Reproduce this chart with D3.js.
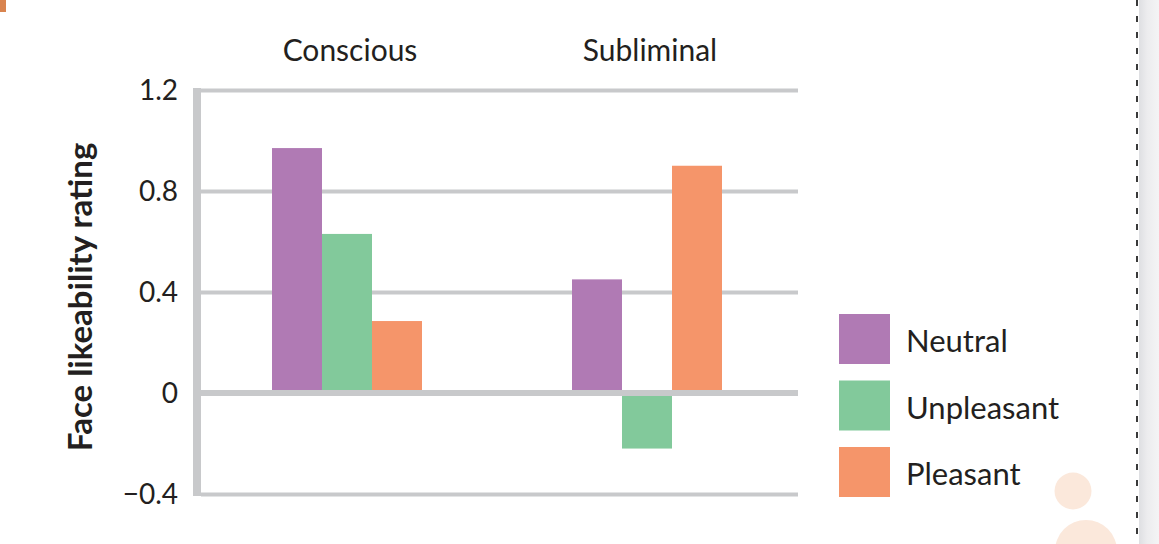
<!DOCTYPE html>
<html>
<head>
<meta charset="utf-8">
<script src="https://cdn.jsdelivr.net/npm/d3@7"></script>
<style>
  html, body { margin: 0; padding: 0; background: #fff; }
  svg { display: block; }
  text { font-family: Lato, "Open Sans", sans-serif; fill: #231f20; }
</style>
</head>
<body>
<svg id="chart" width="1159" height="544"></svg>
<script>
const categories = ["Conscious", "Subliminal"];
const seriesNames = ["Neutral", "Unpleasant", "Pleasant"];
const neutralValues = [0.97, 0.45];
const unpleasantValues = [0.63, -0.22];
const pleasantValues = [0.285, 0.90];
const tickValues = [-0.4, 0, 0.4, 0.8, 1.2];
const tickLabels = ["\u22120.4", "0", "0.4", "0.8", "1.2"];
const seriesColors = ["#b07ab4", "#82c99b", "#f5956a"];
const yTitle = "Face likeability rating";

const seriesValues = [neutralValues, unpleasantValues, pleasantValues];

const svg = d3.select("#chart");

// decorations
const defs = svg.append("defs");
const grad = defs.append("linearGradient").attr("id", "sideGrad").attr("x1", "0").attr("x2", "1");
grad.append("stop").attr("offset", "0").attr("stop-color", "#dedfe2");
grad.append("stop").attr("offset", "0.4").attr("stop-color", "#ececee");
grad.append("stop").attr("offset", "1").attr("stop-color", "#f4f4f5");
svg.append("rect").attr("x", 1139).attr("y", 0).attr("width", 20).attr("height", 544).attr("fill", "url(#sideGrad)");
svg.append("line").attr("x1", 1137).attr("x2", 1137).attr("y1", 0).attr("y2", 544)
  .attr("stroke", "#3a3a3a").attr("stroke-width", 2).attr("stroke-dasharray", "6,10");
svg.append("rect").attr("x", 0).attr("y", 0).attr("width", 6).attr("height", 12).attr("fill", "#d9844f");
svg.append("circle").attr("cx", 1073).attr("cy", 491).attr("r", 18.5).attr("fill", "#fbe8db");
svg.append("circle").attr("cx", 1086).attr("cy", 551).attr("r", 31).attr("fill", "#fbe8db");

// scales
const y = d3.scaleLinear().domain([-0.4, 1.2]).range([494, 90]);
const x0 = d3.scaleBand().domain(categories).range([197, 797]).padding(0);
const x1 = d3.scaleBand().domain(seriesNames).range([75, 225]).padding(0);
const color = d3.scaleOrdinal().domain(seriesNames).range(seriesColors);

const gridColor = "#c8c9cb";

// gridlines via axis
const gridAxis = d3.axisRight(y).tickValues(tickValues.filter(v => v !== 0)).tickSize(597).tickFormat("");
const gGrid = svg.append("g").attr("transform", "translate(201,0)").call(gridAxis);
gGrid.select(".domain").remove();
gGrid.selectAll(".tick line").attr("stroke", gridColor).attr("stroke-width", 4);

// bars
const rows = categories.map((c, i) => ({ cat: c, vals: seriesNames.map((s, j) => ({ s, v: seriesValues[j][i] })) }));
const groups = svg.append("g").selectAll("g").data(rows).join("g")
  .attr("transform", d => `translate(${x0(d.cat)},0)`);
groups.selectAll("rect").data(d => d.vals).join("rect")
  .attr("x", d => x1(d.s))
  .attr("width", x1.bandwidth())
  .attr("y", d => y(Math.max(0, d.v)))
  .attr("height", d => Math.abs(y(d.v) - y(0)))
  .attr("fill", d => color(d.s));

// zero line
svg.append("line").attr("x1", 197).attr("x2", 798).attr("y1", y(0)).attr("y2", y(0))
  .attr("stroke", gridColor).attr("stroke-width", 6);

// vertical axis bar
svg.append("line").attr("x1", 197).attr("x2", 197).attr("y1", y(1.2) - 2).attr("y2", y(-0.4) + 2)
  .attr("stroke", gridColor).attr("stroke-width", 8);

// y tick labels via axis
const yAxis = d3.axisLeft(y).tickValues(tickValues).tickSize(0).tickPadding(0)
  .tickFormat((d, i) => tickLabels[i]);
const gY = svg.append("g").attr("transform", "translate(178,0)").call(yAxis);
gY.select(".domain").remove();
gY.selectAll("text").style("font-size", "28px").style("font-family", "Lato, sans-serif").attr("fill", "#231f20").attr("dy", "0.35em");

// category labels
svg.append("g").selectAll("text").data(categories).join("text")
  .attr("x", d => x0(d) + x0.bandwidth() / 2 + 3)
  .attr("y", 61)
  .attr("text-anchor", "middle")
  .style("font-size", "30px")
  .text(d => d);

// y title
svg.append("text")
  .attr("transform", "translate(92,297) rotate(-90)")
  .attr("text-anchor", "middle")
  .style("font-size", "33px")
  .style("font-weight", "bold")
  .text(yTitle);

// legend
const legend = svg.append("g").selectAll("g").data(seriesNames).join("g")
  .attr("transform", (d, i) => `translate(839,${314 + i * 66.5})`);
legend.append("rect").attr("width", 51).attr("height", 50).attr("fill", d => color(d));
legend.append("text").attr("x", 67).attr("y", 38).style("font-size", "31px").text(d => d);
</script>
</body>
</html>
